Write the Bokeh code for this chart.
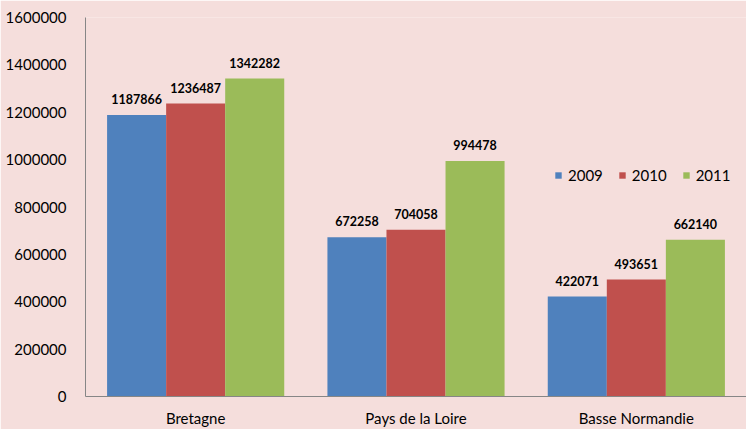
from bokeh.plotting import figure
from bokeh.models import ColumnDataSource, FactorRange, Range1d, FixedTicker, LabelSet, Legend, LegendItem, BasicTickFormatter
from bokeh.core.properties import value
from bokeh.transform import dodge
from bokeh.embed import file_html
from bokeh.resources import INLINE

regions = ["Bretagne", "Pays de la Loire", "Basse Normandie"]
years = ["2009", "2010", "2011"]
v2009 = [1187866, 672258, 422071]
v2010 = [1236487, 704058, 493651]
v2011 = [1342282, 994478, 662140]
yticks = [0, 200000, 400000, 600000, 800000, 1000000, 1200000, 1400000, 1600000]

colors = ["#4F81BD", "#C0504D", "#9BBB59"]
bg = "#F5DEDC"
FONT = "Lato"

src = ColumnDataSource(dict(cat=regions, y2009=v2009, y2010=v2010, y2011=v2011,
                            t2009=[str(v) for v in v2009],
                            t2010=[str(v) for v in v2010],
                            t2011=[str(v) for v in v2011]))

p = figure(width=746, height=429, x_range=FactorRange(*regions, range_padding=0),
           y_range=Range1d(0, 1600000), output_backend="svg", toolbar_location=None,
           min_border_left=85, min_border_right=0, min_border_top=17, min_border_bottom=33)
p.background_fill_color = bg
p.border_fill_color = bg
p.outline_line_color = None
p.xgrid.grid_line_color = None
p.ygrid.grid_line_color = None

bw = 0.268
offs = [-bw, 0.0, bw]
items = []
for yr, c, o in zip(years, colors, offs):
    r = p.vbar(x=dodge("cat", o, range=p.x_range), top="y" + yr, width=bw, source=src,
               fill_color=c, line_color=None)
    items.append(LegendItem(label=yr, renderers=[r]))
    lab = LabelSet(x=dodge("cat", o, range=p.x_range), y="y" + yr, text="t" + yr, source=src,
                   text_align="center", text_baseline="middle", y_offset=16,
                   text_font=value(FONT), text_font_size="12.5px", text_font_style="bold",
                   text_color="#000000")
    p.add_layout(lab)

legend = Legend(items=items, orientation="horizontal", location=(469, 212),
                glyph_width=8, glyph_height=8, label_standoff=6, spacing=15,
                padding=0, margin=0, label_height=16,
                label_text_font=FONT, label_text_font_size="15px", label_text_color="#000000",
                background_fill_alpha=0, border_line_color=None)
p.add_layout(legend)

p.yaxis.ticker = FixedTicker(ticks=yticks)
p.yaxis.formatter = BasicTickFormatter(use_scientific=False)
for ax in (p.xaxis, p.yaxis):
    ax.axis_line_color = "#868686"
    ax.major_tick_line_color = None
    ax.minor_tick_line_color = None
    ax.major_label_text_font = FONT
    ax.major_label_text_font_size = "15px"
    ax.major_label_text_color = "#000000"
p.yaxis.major_label_standoff = 13
p.xaxis.major_label_standoff = 6

open("out.html", "w").write(file_html(p, INLINE))
